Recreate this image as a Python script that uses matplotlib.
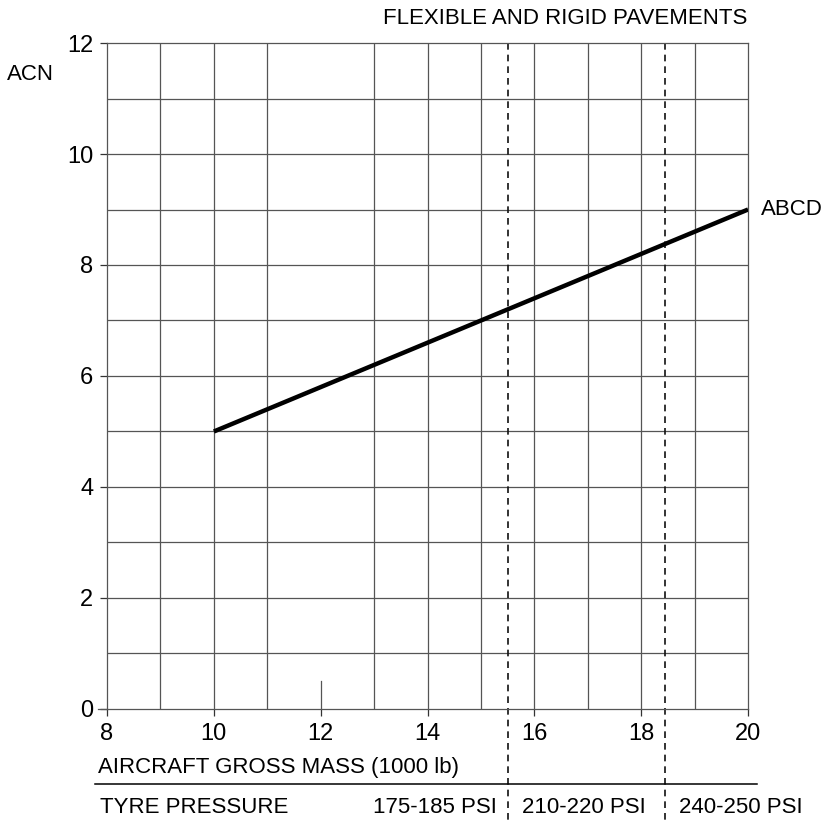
import numpy as np
import matplotlib.pyplot as plt

plt.rcParams['font.family'] = ['Liberation Sans', 'DejaVu Sans']

# data
mass = [10, 20]          # 1000 lb
acn = [5, 9]
series_label = 'ABCD'
x_ticks = [8, 10, 12, 14, 16, 18, 20]
y_ticks = [0, 2, 4, 6, 8, 10, 12]
pressure_bounds = [15.5, 18.45]
pressure_labels = ['175-185 PSI', '210-220 PSI', '240-250 PSI']

FS = 16

fig = plt.figure(figsize=(8.31, 8.24), dpi=100)
ax = fig.add_axes([0.1288, 0.1396, 0.7714, 0.8082])

grid_kw = dict(color='#555555', lw=0.9, zorder=1)
for gx in range(9, 20):
    if gx == 12:
        ax.plot([gx, gx], [0, 0.5], **grid_kw)
    else:
        ax.axvline(gx, **grid_kw)
for gy in range(1, 12):
    ax.axhline(gy, **grid_kw)

ax.plot(mass, acn, color='black', lw=3.2, solid_capstyle='butt', zorder=3)
ax.text(20.25, 9, series_label, fontsize=FS, va='center', ha='left')

ax.set_xlim(8, 20)
ax.set_ylim(0, 12)
ax.set_xticks(x_ticks)
ax.set_yticks(y_ticks)
ax.tick_params(labelsize=17, length=5, width=0.9, colors='#333333',
               labelcolor='black', pad=5)
for s in ax.spines.values():
    s.set_color('#555555')
    s.set_linewidth(0.9)

# pressure band dividers, running below the axes
for b in pressure_bounds:
    ax.plot([b, b], [12, -2.1], color='#111111', lw=1.2, ls=(0, (4, 3)),
            clip_on=False, zorder=2)
ax.plot([7.78, 20.17], [-1.35, -1.35], color='black', lw=1.1, clip_on=False)
# bottom axis stub to the left
ax.plot([7.83, 8], [0, 0], color='#555555', lw=0.9, clip_on=False)

ax.text(7.83, -1.06, 'AIRCRAFT GROSS MASS (1000 lb)', fontsize=FS,
        ha='left', va='center')
ax.text(7.87, -1.78, 'TYRE PRESSURE', fontsize=FS, ha='left', va='center')
ax.text(15.3, -1.78, pressure_labels[0], fontsize=FS, ha='right', va='center')
ax.text(15.77, -1.78, pressure_labels[1], fontsize=FS, ha='left', va='center')
ax.text(18.7, -1.78, pressure_labels[2], fontsize=FS, ha='left', va='center')

fig.text(30 / 831, 1 - 75 / 824, 'ACN', fontsize=FS, ha='center', va='center')
fig.text(565 / 831, 1 - 18 / 824, 'FLEXIBLE AND RIGID PAVEMENTS', fontsize=FS,
         ha='center', va='center')

fig.savefig('out.png', dpi=100)
